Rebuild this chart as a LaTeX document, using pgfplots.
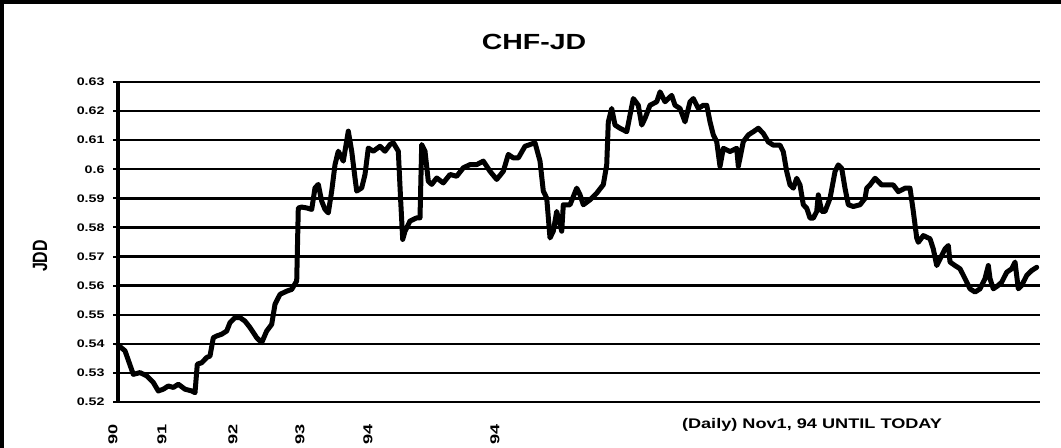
\documentclass[border=0pt]{standalone}
\usepackage{pgfplots}
\pgfplotsset{compat=1.18}
\usepackage{pgfplotstable}
\usepackage{fontspec}
\setmainfont{Liberation Sans}
\pgfplotstableread{
x y
118.3 0.5395
125 0.5376
133.3 0.5295
140 0.5301
146.7 0.5290
153.3 0.5267
158.3 0.5238
163.3 0.5244
168.3 0.5255
173.3 0.5250
178.3 0.5261
185 0.5244
191.7 0.5238
195 0.5232
197.3 0.5330
201.7 0.5335
206.7 0.5353
210 0.5358
213.3 0.5421
216.7 0.5427
221.7 0.5433
226.7 0.5444
230 0.5473
235 0.5490
240 0.5490
245 0.5478
250 0.5456
256.7 0.5421
261.7 0.5404
266.7 0.5444
271.7 0.5467
275 0.5536
280 0.5570
286.7 0.5581
291.7 0.5587
296.7 0.5616
298.3 0.5867
301.7 0.5870
306.7 0.5867
311.7 0.5862
315 0.5936
318.3 0.5948
321.7 0.5890
325 0.5862
328.3 0.5850
331.7 0.5925
335 0.6016
338.3 0.6062
343.3 0.6028
348.3 0.6131
351.7 0.6062
355 0.5970
356.7 0.5925
361.7 0.5936
365 0.5982
368.3 0.6073
373.3 0.6062
380 0.6079
385 0.6062
390 0.6085
393.3 0.6091
398.3 0.6062
400.7 0.5890
402.7 0.5759
405 0.5787
410 0.5822
416.7 0.5833
420 0.5833
421.7 0.6085
425 0.6062
428.3 0.5959
431.7 0.5948
436.7 0.5970
443.3 0.5953
450 0.5982
456.7 0.5976
463.3 0.6005
470 0.6016
476.7 0.6016
483.3 0.6028
490 0.5993
496.7 0.5965
503.3 0.5993
508.3 0.6051
513.3 0.6039
518.3 0.6039
525 0.6079
530 0.6085
535 0.6091
540 0.6028
543.3 0.5925
546.7 0.5901
550 0.5764
553.3 0.5787
556.7 0.5855
561.7 0.5787
563.3 0.5878
570 0.5878
576.7 0.5935
580 0.5912
583.3 0.5878
590 0.5895
596.7 0.5918
603.3 0.5947
606.7 0.6015
608.3 0.6163
611.7 0.6209
615 0.6152
620 0.6141
626.7 0.6129
630 0.6186
633.3 0.6243
638.3 0.6220
641.7 0.6152
645 0.6175
650 0.6220
656.7 0.6232
660 0.6266
665 0.6232
671.7 0.6254
675 0.6220
680 0.6209
685 0.6163
690 0.6232
693.3 0.6243
698.3 0.6209
703.3 0.6220
706.7 0.6220
710 0.6163
713.3 0.6118
716.7 0.6095
720 0.6010
723.3 0.6072
730 0.6061
736.7 0.6072
738.3 0.6010
743.3 0.6095
748.3 0.6118
753.3 0.6129
758.3 0.6141
763.3 0.6123
768.3 0.6094
773.3 0.6083
780 0.6083
783.3 0.6060
786.7 0.5992
790 0.5946
793.3 0.5935
796.7 0.5969
800 0.5946
803.3 0.5878
806.7 0.5866
810 0.5832
813.3 0.5832
816.7 0.5855
818.3 0.5912
821.7 0.5855
825 0.5855
830 0.5900
835 0.5992
838.3 0.6015
841.7 0.6003
845 0.5935
848.3 0.5878
853.3 0.5872
860 0.5878
865 0.5900
866.7 0.5935
870 0.5946
875 0.5969
881.7 0.5946
886.7 0.5946
893.3 0.5946
898.3 0.5923
905 0.5935
910 0.5935
913.3 0.5855
916.7 0.5764
918.3 0.5749
923.3 0.5772
930 0.5761
933.3 0.5726
936.7 0.5669
940 0.5692
945 0.5726
948.3 0.5738
950 0.5681
955 0.5669
960 0.5658
965 0.5624
970 0.5589
975 0.5578
980 0.5589
985 0.5624
988.3 0.5669
990 0.5624
993.3 0.5589
998.3 0.5601
1001.7 0.5612
1006.7 0.5646
1011.7 0.5658
1015 0.5681
1018.3 0.5589
1021.7 0.5601
1026.7 0.5635
1031.7 0.5652
1036.7 0.5663
}\chfdata
\begin{document}
\begin{tikzpicture}[x=1bp,y=1bp]
\path[use as bounding box] (0,0) rectangle (1061,448);
\fill[white] (0,0) rectangle (1061,448);
\draw[line width=4bp] (2,0) -- (2,446) -- (1061,446);
\node[font=\fontsize{22}{26}\selectfont\bfseries, xscale=1.3] at (534,406) {CHF-JD};
\node[font=\fontsize{16}{19}\selectfont\bfseries, rotate=90, yscale=1.3] at (40,192) {JDD};
\node[font=\fontsize{14}{17}\selectfont\bfseries, xscale=1.3] at (812,23) {(Daily) Nov1, 94 UNTIL TODAY};
\begin{axis}[
  at={(118bp,46bp)}, anchor=south west,
  scale only axis, width=922bp, height=320bp,
  xmin=118, xmax=1040, ymin=0.52, ymax=0.63,
  axis lines*=left,
  xtick=\empty,
  ytick={0.52,0.53,0.54,0.55,0.56,0.57,0.58,0.59,0.60,0.61,0.62,0.63},
  yticklabel style={font=\fontsize{11}{13}\selectfont\bfseries, xscale=1.3, xshift=-3bp,
    /pgf/number format/fixed, /pgf/number format/precision=2},
  /pgf/number format/assume math mode=true,
  ymajorgrids, grid style={line width=2.4bp, black},
  x axis line style={line width=2.6bp},
  y axis line style={line width=3.2bp},
  tick style={line width=2bp, black}, major tick length=10bp, tick align=center,
  clip=false,
]
\addplot[line width=5bp, black, line join=round, line cap=round] table[x=x,y=y] {\chfdata};
\foreach \xx/\lab in {113/90,162/91,233/92,300/93,368/94,495/94} {
  \edef\temp{\noexpand\node[font=\noexpand\fontsize{13}{15}\noexpand\selectfont\noexpand\bfseries, rotate=90, xscale=1.4, anchor=east, inner sep=0pt, xshift=-16bp] at (axis cs:\xx,0.52) {\lab};}
  \temp
}
\end{axis}
\end{tikzpicture}
\end{document}
